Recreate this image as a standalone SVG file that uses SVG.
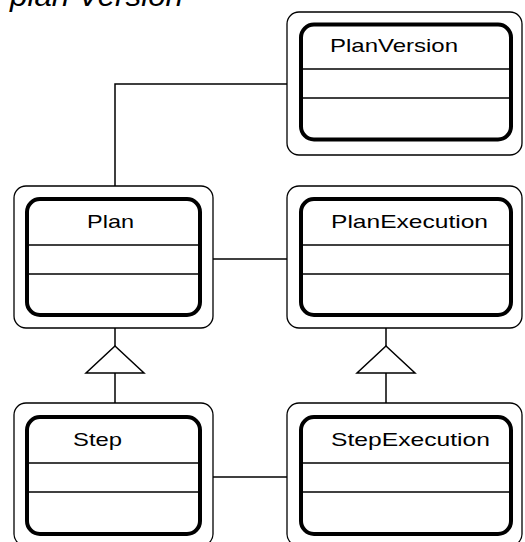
<svg xmlns="http://www.w3.org/2000/svg" width="525" height="542" viewBox="0 0 525 542">
<style>
.outer{fill:none;stroke:#000;stroke-width:1.3}
.inner{fill:none;stroke:#000;stroke-width:4}
.div{stroke:#000;stroke-width:1.5}
.lbl{font-family:"Liberation Sans",Arial,sans-serif;font-size:19px;fill:#000}
.conn{fill:none;stroke:#000;stroke-width:1.5}
.tri{fill:#fff;stroke:#000;stroke-width:1.5}
.title{font-family:"Liberation Sans",Arial,sans-serif;font-size:29px;font-style:italic;fill:#000}
</style>
<rect width="525" height="542" fill="#fff"/>
<text class="title" x="10" y="6" textLength="173" lengthAdjust="spacingAndGlyphs">plan Version</text>
<g id="connectors">
<polyline class="conn" points="115,186 115,84 287,84"/>
<line class="conn" x1="213" y1="259" x2="287" y2="259"/>
<line class="conn" x1="213" y1="477" x2="287" y2="477"/>
<line class="conn" x1="115" y1="328" x2="115" y2="346"/>
<line class="conn" x1="115" y1="373" x2="115" y2="403"/>
<polygon class="tri" points="115,346 144,373 86,373"/>
<line class="conn" x1="386" y1="328" x2="386" y2="346"/>
<line class="conn" x1="386" y1="373" x2="386" y2="403"/>
<polygon class="tri" points="386,346 415,373 357,373"/>
</g>
<g id="PlanVersion">
<rect class="outer" x="287" y="12" width="235" height="143" rx="12"/>
<rect class="inner" x="301" y="24.5" width="210" height="115" rx="13"/>
<line class="div" x1="301" y1="69" x2="511" y2="69"/>
<line class="div" x1="301" y1="98" x2="511" y2="98"/>
<text class="lbl" x="330" y="52" textLength="128" lengthAdjust="spacingAndGlyphs">PlanVersion</text>
</g>
<g id="Plan">
<rect class="outer" x="14" y="186" width="199" height="142" rx="12"/>
<rect class="inner" x="27" y="199" width="173" height="116" rx="13"/>
<line class="div" x1="27" y1="245" x2="200" y2="245"/>
<line class="div" x1="27" y1="274" x2="200" y2="274"/>
<text class="lbl" x="87" y="228" textLength="47" lengthAdjust="spacingAndGlyphs">Plan</text>
</g>
<g id="PlanExecution">
<rect class="outer" x="287" y="186" width="235" height="142" rx="12"/>
<rect class="inner" x="301" y="199" width="210" height="116" rx="13"/>
<line class="div" x1="301" y1="245" x2="511" y2="245"/>
<line class="div" x1="301" y1="274" x2="511" y2="274"/>
<text class="lbl" x="331" y="228" textLength="157" lengthAdjust="spacingAndGlyphs">PlanExecution</text>
</g>
<g id="Step">
<rect class="outer" x="14" y="403" width="199" height="143" rx="12"/>
<rect class="inner" x="27" y="417" width="173" height="117" rx="13"/>
<line class="div" x1="27" y1="463" x2="200" y2="463"/>
<line class="div" x1="27" y1="492" x2="200" y2="492"/>
<text class="lbl" x="73" y="446" textLength="49" lengthAdjust="spacingAndGlyphs">Step</text>
</g>
<g id="StepExecution">
<rect class="outer" x="287" y="403" width="235" height="143" rx="12"/>
<rect class="inner" x="301" y="417" width="210" height="117" rx="13"/>
<line class="div" x1="301" y1="463" x2="511" y2="463"/>
<line class="div" x1="301" y1="492" x2="511" y2="492"/>
<text class="lbl" x="331" y="446" textLength="159" lengthAdjust="spacingAndGlyphs">StepExecution</text>
</g>
</svg>
